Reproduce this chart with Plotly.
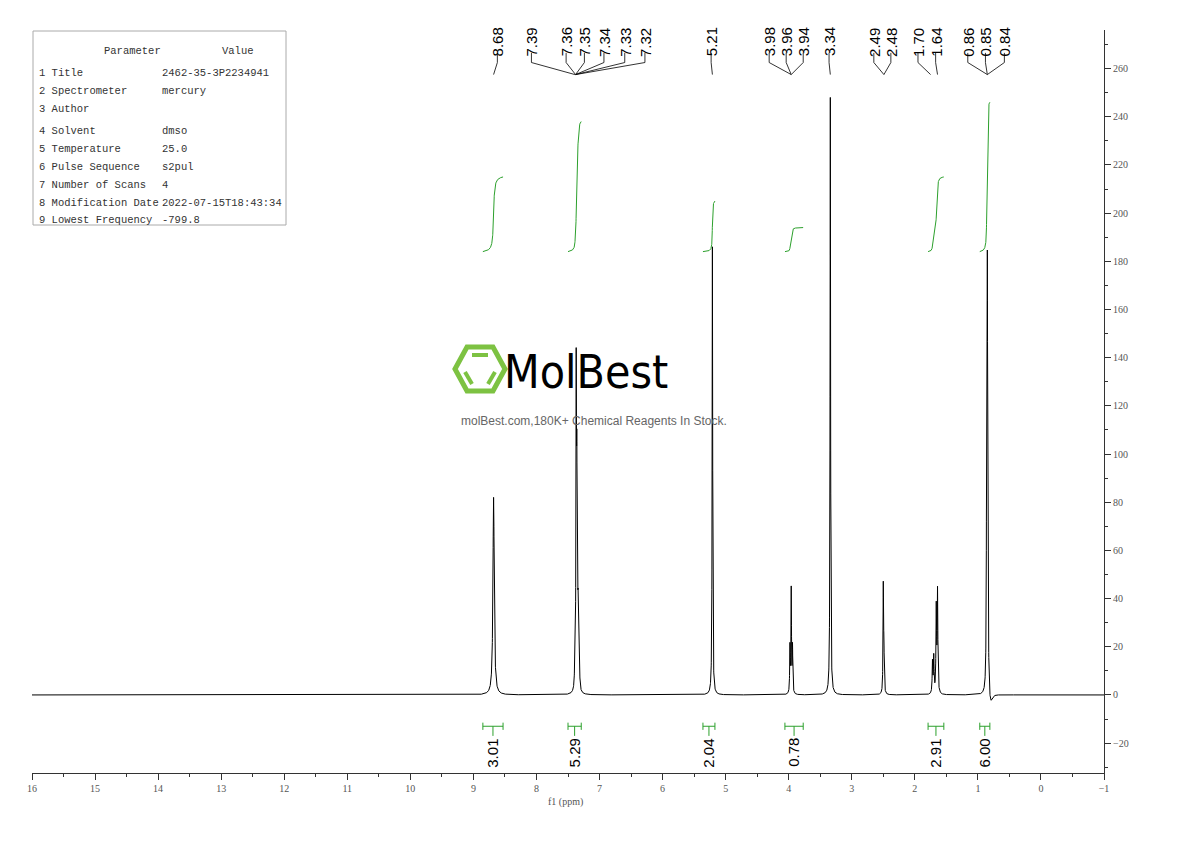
import numpy as np
import plotly.graph_objects as go

# peak list: position (ppm), height, half width (ppm)
peak_ppm = [8.68, 7.39, 7.37, 7.36, 7.35, 7.34, 7.33, 7.32, 5.21, 3.98, 3.96, 3.94,
            3.34, 2.50, 2.49, 1.72, 1.70, 1.66, 1.64, 0.86, 0.85, 0.84, 0.80]
peak_height = [82, 15, 125, 75, 38, 24, 18, 12, 186, 19, 43, 19,
               248, 44, 16, 13, 15, 35, 42, 110, 150, 70, -5]
peak_hw = [0.012, 0.005, 0.005, 0.005, 0.005, 0.005, 0.005, 0.005, 0.005, 0.005, 0.005, 0.005,
           0.005, 0.005, 0.005, 0.006, 0.006, 0.006, 0.006, 0.005, 0.005, 0.005, 0.03]

# peak labels (text, label x in ppm, peak x in ppm)
label_text = ['8.68', '7.39', '7.36', '7.35', '7.34', '7.33', '7.32', '5.21', '3.98', '3.96', '3.94',
              '3.34', '2.49', '2.48', '1.70', '1.64', '0.86', '0.85', '0.84']
label_x = [8.62, 8.08, 7.53, 7.24, 6.93, 6.60, 6.28, 5.23, 4.31, 4.04, 3.77,
           3.36, 2.65, 2.38, 1.95, 1.67, 1.16, 0.88, 0.58]
label_peak = [8.68, 7.39, 7.38, 7.38, 7.38, 7.38, 7.38, 5.21, 3.96, 3.96, 3.96,
              3.34, 2.49, 2.49, 1.75, 1.64, 0.85, 0.85, 0.85]

# integrals: region start, end (ppm), value, rise of green curve
int_start = [8.85, 7.50, 5.36, 4.06, 1.79, 0.97]
int_end = [8.53, 7.29, 5.17, 3.77, 1.54, 0.81]
int_value = ['3.01', '5.29', '2.04', '0.78', '2.91', '6.00']
int_rise = [31, 54, 21, 10, 31, 62]

param_names = ['1 Title', '2 Spectrometer', '3 Author', '4 Solvent', '5 Temperature',
               '6 Pulse Sequence', '7 Number of Scans', '8 Modification Date', '9 Lowest Frequency']
param_values = ['2462-35-3P2234941', 'mercury', '', 'dmso', '25.0', 's2pul', '4',
                '2022-07-15T18:43:34', '-799.8']

ppm = np.linspace(16, -1, 17001)
spec = np.zeros_like(ppm)
for p, h, w in zip(peak_ppm, peak_height, peak_hw):
    spec += h * w**2 / ((ppm - p)**2 + w**2)

fig = go.Figure()
fig.add_trace(go.Scatter(x=ppm, y=spec, mode='lines', line=dict(color='black', width=1),
                         hoverinfo='skip'))

GREEN = '#2ca02c'
for s, e, v, r in zip(int_start, int_end, int_value, int_rise):
    m = (ppm <= s) & (ppm >= e)
    cum = np.cumsum(spec[m])
    cum = 184 + r * cum / cum[-1]
    fig.add_trace(go.Scatter(x=ppm[m], y=cum, mode='lines', line=dict(color=GREEN, width=1),
                             hoverinfo='skip'))
    c = (s + e) / 2
    fig.add_shape(type='line', x0=s, x1=e, y0=-13, y1=-13, line=dict(color=GREEN, width=1))
    for xx in (s, e):
        fig.add_shape(type='line', x0=xx, x1=xx, y0=-11.5, y1=-14.5, line=dict(color=GREEN, width=1))
    fig.add_shape(type='line', x0=c, x1=c, y0=-13, y1=-17, line=dict(color=GREEN, width=1))
    fig.add_annotation(x=c, y=-24, text=v, textangle=-90, showarrow=False,
                       font=dict(family='Liberation Sans', size=15, color='black'))

for t, lx, px in zip(label_text, label_x, label_peak):
    fig.add_annotation(x=lx, y=271, text=t, textangle=-90, showarrow=False,
                       font=dict(family='Liberation Sans', size=15, color='black'))
    fig.add_shape(type='line', x0=lx, x1=lx, y0=266.5, y1=262.5, line=dict(color='black', width=0.8))
    fig.add_shape(type='line', x0=lx, x1=px, y0=262.5, y1=257.5, line=dict(color='black', width=0.8))

# the page body adds an 8px offset
OFF = 8
W, H = 1190 - 2 * OFF, 841 - 2 * OFF
L, R, T, B = 32, 1104, 30, 773


def px(x):
    return (x - L) / (R - L)


def py(y):
    return (B - y) / (B - T)


# parameter table
fig.add_shape(type='rect', xref='paper', yref='paper', x0=px(33), x1=px(286), y0=py(31), y1=py(225),
              line=dict(color='#aaaaaa', width=1))
tfont = dict(family='Liberation Mono', size=10.5, color='#333333')
fig.add_annotation(xref='paper', yref='paper', x=px(102), y=py(43), text='Parameter',
                   showarrow=False, font=tfont)
fig.add_annotation(xref='paper', yref='paper', x=px(220), y=py(43), text='Value',
                   showarrow=False, font=tfont)
row_y = [65, 83, 101, 123, 141, 159, 177, 195, 212]
for n, v, ry in zip(param_names, param_values, row_y):
    fig.add_annotation(xref='paper', yref='paper', x=px(37), y=py(ry), text=n, xanchor='left',
                       showarrow=False, font=tfont)
    fig.add_annotation(xref='paper', yref='paper', x=px(160), y=py(ry), text=v, xanchor='left',
                       showarrow=False, font=tfont)

# watermark
hx = [455, 467, 493, 505, 493, 467]
hy = [369, 347, 347, 369, 391, 391]
path = 'M ' + ' L '.join(f'{px(a)} {py(b)}' for a, b in zip(hx, hy)) + ' Z'
fig.add_shape(type='path', xref='paper', yref='paper', path=path, line=dict(color='#7dc242', width=5))
fig.add_shape(type='line', xref='paper', yref='paper', x0=px(472), x1=px(488), y0=py(355), y1=py(355),
              line=dict(color='#7dc242', width=4))
fig.add_shape(type='line', xref='paper', yref='paper', x0=px(465), x1=px(472), y0=py(372), y1=py(384),
              line=dict(color='#7dc242', width=4))
fig.add_shape(type='line', xref='paper', yref='paper', x0=px(495), x1=px(488), y0=py(372), y1=py(384),
              line=dict(color='#7dc242', width=4))
fig.add_annotation(xref='paper', yref='paper', x=px(586), y=py(372), text='MolBest', showarrow=False,
                   font=dict(family='DejaVu Sans Condensed, DejaVu Sans', size=46, color='black'))
fig.add_annotation(xref='paper', yref='paper', x=px(594), y=py(421),
                   text='molBest.com,180K+ Chemical Reagents In Stock.', showarrow=False,
                   font=dict(family='Liberation Sans', size=12, color='#666666'))

fig.add_annotation(xref='paper', yref='paper', x=px(565), y=py(802), yanchor='middle',
                   text='f1 (ppm)', showarrow=False,
                   font=dict(family='Liberation Serif', size=10, color='#555555'))

axfont = dict(family='Liberation Serif', size=10, color='#555555')
fig.update_layout(
    width=W, height=H, plot_bgcolor='white', paper_bgcolor='white', showlegend=False,
    margin=dict(l=L - OFF, r=W + OFF - R, t=T - OFF, b=H + OFF - B),
    xaxis=dict(range=[16, -1], dtick=1, ticks='outside', ticklen=6, tickcolor='#333',
               showline=True, linecolor='#333', showgrid=False, zeroline=False, tickfont=axfont,
               minor=dict(dtick=0.5, ticks='outside', ticklen=3, tickcolor='#333')),
    yaxis=dict(range=[-32.4, 276], side='right', dtick=20, ticks='outside', ticklen=6, tickcolor='#333',
               showline=True, linecolor='#333', showgrid=False, zeroline=False, tickfont=axfont,
               minor=dict(dtick=10, ticks='outside', ticklen=3, tickcolor='#333')),
)
fig.write_html('out.html')
